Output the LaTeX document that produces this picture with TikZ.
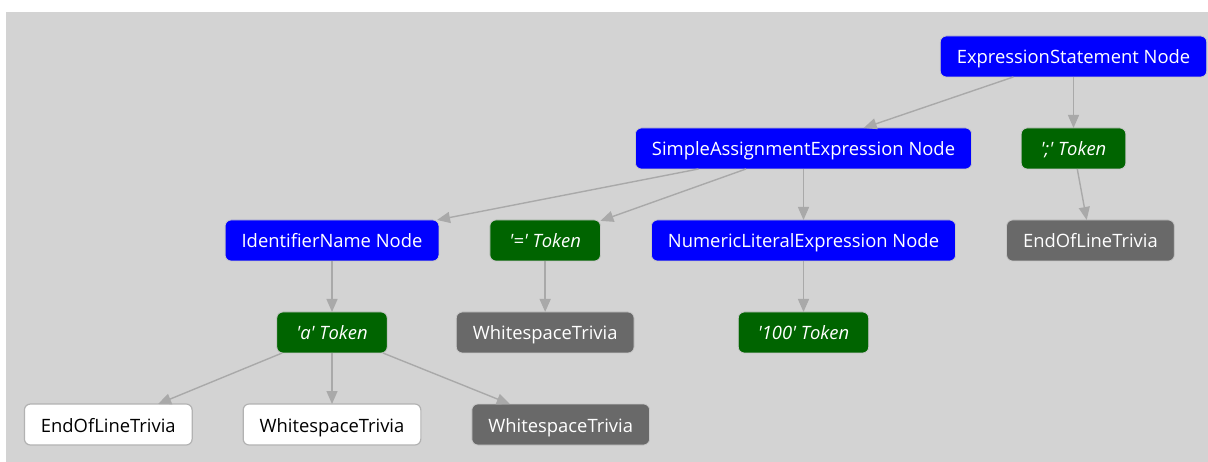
\documentclass[tikz,border=0pt]{standalone}
\usepackage{fontspec}
\newfontfamily\uifont{Open Sans}
\usetikzlibrary{arrows.meta, positioning}
\definecolor{canvas}{HTML}{D3D3D3}
\definecolor{edgegray}{HTML}{A9A9A9}
\definecolor{synblue}{HTML}{0000FF}
\definecolor{tokgreen}{HTML}{006400}
\definecolor{trivgray}{HTML}{696969}

\begin{document}
\begin{tikzpicture}[x=1pt, y=-1pt, node distance=51pt,
    box/.style={rounded corners=6pt, draw=black!22, line width=0.8pt,
      minimum height=41pt, inner xsep=16.5pt, inner ysep=0pt, outer sep=0pt,
      text height=15pt, text depth=0pt, font=\uifont\fontsize{18.4}{22}\selectfont},
    syntax/.style={box, fill=synblue, text=white},
    token/.style={box, fill=tokgreen, text=white, inner xsep=19.5pt,
      font=\uifont\fontsize{18.4}{22}\selectfont\itshape},
    trivia/.style={box, fill=trivgray, text=white},
    lonetrivia/.style={box, fill=white, draw=black!30, line width=1.2pt, text=black},
    edge/.style={draw=edgegray, line width=1.4pt, -{Triangle[length=13pt, width=11pt]}}]
  \useasboundingbox (0,0) rectangle (1208,462);
  \fill[canvas] (6,12) rectangle (1208,462);

  \node[syntax] (exprstmt) at (1073.5,56.5) {ExpressionStatement Node};
  \node[token, below=of exprstmt] (semitok) {';' Token};
  \node[syntax] (assign) at (803.5,148.5) {SimpleAssignmentExpression Node};
  \node[syntax, below=of assign] (numeric) {NumericLiteralExpression Node};
  \node[token, left=of numeric] (eqtok) {'=' Token};
  \node[syntax, left=of eqtok] (ident) {IdentifierName Node};
  \node[trivia, right=of numeric] (eolright) {EndOfLineTrivia};
  \node[token, below=of ident] (atok) {'a' Token};
  \node[trivia, below=of eqtok] (wsmid) {WhitespaceTrivia};
  \node[token, below=of numeric] (hundred) {'100' Token};
  \node[lonetrivia, below=of atok] (wslone) {WhitespaceTrivia};
  \node[lonetrivia, left=of wslone] (eolleft) {EndOfLineTrivia};
  \node[trivia, right=of wslone] (wsdark) {WhitespaceTrivia};

  \draw[edge] (exprstmt) -- (assign);
  \draw[edge] (exprstmt) -- (semitok);
  \draw[edge] (semitok) -- (eolright);
  \draw[edge] (assign) -- (ident);
  \draw[edge] (assign) -- (eqtok);
  \draw[edge] (assign) -- (numeric);
  \draw[edge] (ident) -- (atok);
  \draw[edge] (eqtok) -- (wsmid);
  \draw[edge] (numeric) -- (hundred);
  \draw[edge] (atok) -- (eolleft);
  \draw[edge] (atok) -- (wslone);
  \draw[edge] (atok) -- (wsdark);
\end{tikzpicture}
\end{document}
